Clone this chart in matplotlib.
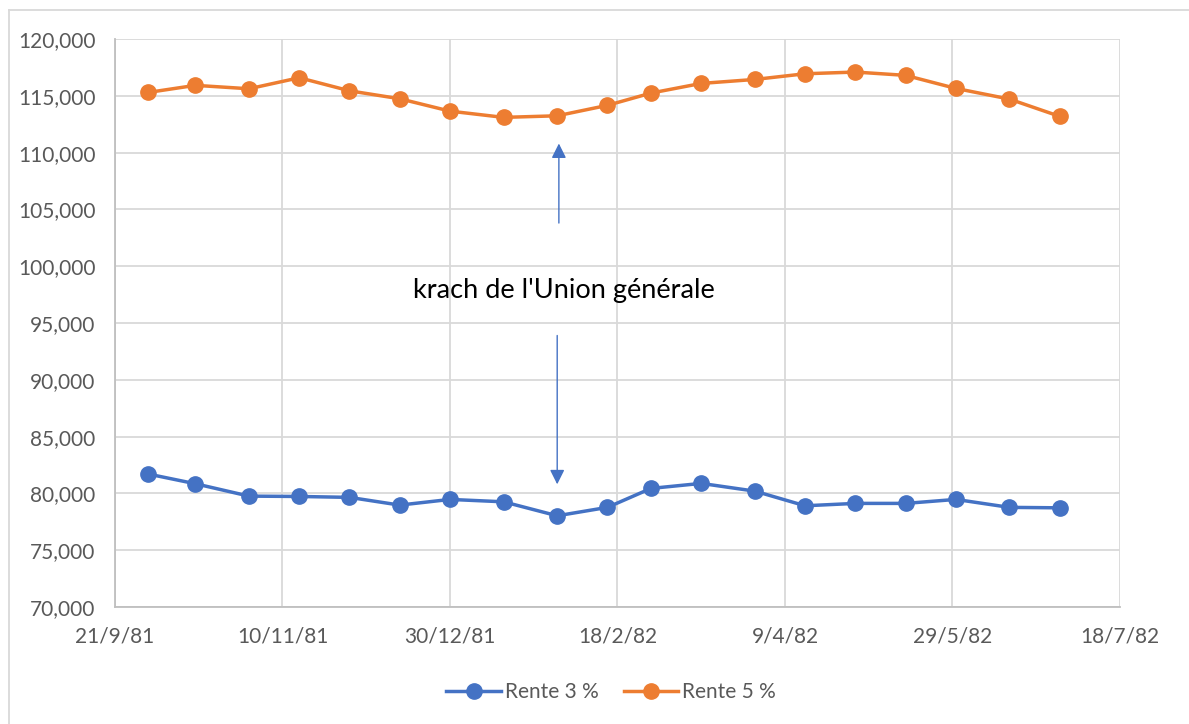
import matplotlib
matplotlib.use("Agg")
import matplotlib.pyplot as plt
import matplotlib.dates as mdates
from matplotlib.ticker import FuncFormatter, MultipleLocator
from matplotlib.lines import Line2D
import datetime as dt

dates = ["1981-10-01", "1981-10-15", "1981-10-31", "1981-11-15", "1981-11-30",
         "1981-12-15", "1981-12-30", "1982-01-15", "1982-01-31", "1982-02-15",
         "1982-02-28", "1982-03-15", "1982-03-31", "1982-04-15", "1982-04-30",
         "1982-05-15", "1982-05-30", "1982-06-15", "1982-06-30"]
rente3 = [81700, 80850, 79760, 79730, 79650, 78970, 79470, 79260, 78030, 78770,
          80440, 80880, 80200, 78910, 79120, 79120, 79470, 78770, 78730]
rente5 = [115300, 115920, 115620, 116590, 115440, 114740, 113650, 113100, 113240, 114160,
          115240, 116090, 116440, 116940, 117090, 116800, 115650, 114710, 113190]
series_names = ["Rente 3 %", "Rente 5 %"]
annotation = "krach de l'Union générale"

x = [dt.datetime.strptime(d, "%Y-%m-%d") for d in dates]

BLUE = "#4472C4"
ORANGE = "#ED7D31"
GRID = "#d9d9d9"
TXT = "#595959"
FONT = "Lato"

fig = plt.figure(figsize=(11.89, 7.24), dpi=100)
ax = fig.add_axes([115/1189, 1-607/724, (1120-115)/1189, (607-39)/724])

ax.plot(x, rente3, color=BLUE, lw=2.5, marker="o", ms=11, label=series_names[0], zorder=3)
ax.plot(x, rente5, color=ORANGE, lw=2.5, marker="o", ms=11, label=series_names[1], zorder=3)

start = dt.datetime(1981, 9, 21)
end = dt.datetime(1982, 7, 18)
ax.set_xlim(start, end)
ax.set_ylim(70000, 120000)
ticks = [start + dt.timedelta(days=50*i) for i in range(7)]
ax.set_xticks(ticks)
ax.set_xticklabels([f"{t.day}/{t.month}/{t.strftime('%y')}" for t in ticks])
ax.yaxis.set_major_locator(MultipleLocator(5000))
ax.yaxis.set_major_formatter(FuncFormatter(lambda v, p: f"{int(v):,}"))

ax.grid(True, color=GRID, lw=1.3, zorder=0)
ax.set_axisbelow(True)
for s in ["top", "right"]:
    ax.spines[s].set_visible(False)
for s in ["left", "bottom"]:
    ax.spines[s].set_color("#bfbfbf")
    ax.spines[s].set_linewidth(1.3)
ax.tick_params(axis="both", length=0, labelsize=15, colors=TXT, pad=14)
for lab in ax.get_xticklabels() + ax.get_yticklabels():
    lab.set_fontfamily(FONT)

# annotation arrows
xa = dt.datetime(1982, 1, 31, 12)
ax.annotate("", xy=(xa, 110800), xytext=(xa, 103800),
            arrowprops=dict(arrowstyle="-|>", color=BLUE, lw=1.0, mutation_scale=22,
                            shrinkA=0, shrinkB=0))
ax.annotate("", xy=(dt.datetime(1982, 1, 31), 80800), xytext=(dt.datetime(1982, 1, 31), 93900),
            arrowprops=dict(arrowstyle="-|>", color=BLUE, lw=1.0, mutation_scale=22,
                            shrinkA=0, shrinkB=0))
ax.text(dt.datetime(1982, 2, 2), 97900, annotation, ha="center", va="center",
        fontsize=19.5, color="black", fontfamily=FONT, zorder=4)

handles = [Line2D([], [], color=BLUE, lw=2.5, marker="o", ms=11),
           Line2D([], [], color=ORANGE, lw=2.5, marker="o", ms=11)]
leg = fig.legend(handles, series_names, loc="center", bbox_to_anchor=(611/1189, 1-692/724),
                 ncol=2, frameon=False, prop={"family": FONT, "size": 15},
                 handlelength=2.6, columnspacing=1.2, handletextpad=0.2)
for t in leg.get_texts():
    t.set_color(TXT)

# chart-area border
fig.add_artist(Line2D([9/1189, 9/1189], [0, 1-10/724], color=GRID, lw=1.3, transform=fig.transFigure))
fig.add_artist(Line2D([9/1189, 1], [1-10/724, 1-10/724], color=GRID, lw=1.3, transform=fig.transFigure))

fig.savefig("out.png", dpi=100)
